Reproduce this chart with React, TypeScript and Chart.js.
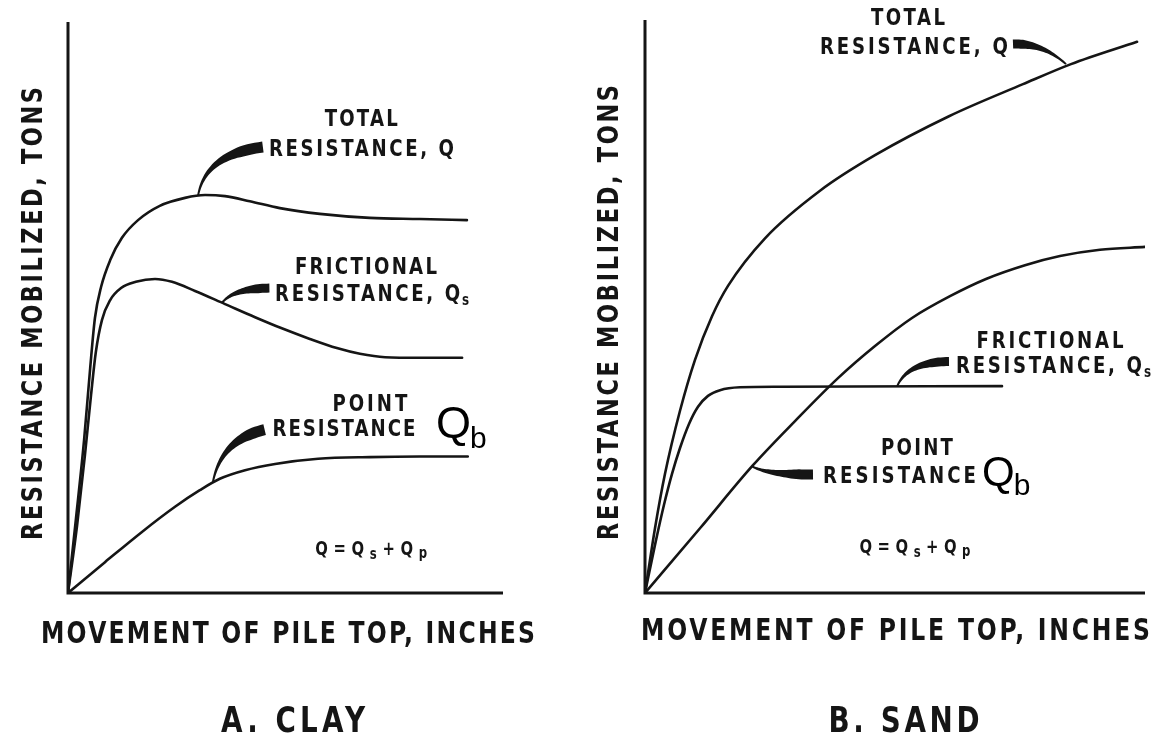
import React, { useEffect, useRef } from "react";
import { Chart, registerables } from "chart.js";
Chart.register(...registerables);

// ---------- text ----------
const xAxisTitle = "MOVEMENT OF PILE TOP, INCHES";
const yAxisTitle = "RESISTANCE MOBILIZED, TONS";
const clayCaption = "A. CLAY";
const sandCaption = "B. SAND";

// ---------- data (movement vs resistance, schematic units 0..100) ----------
const clayTotalX = [0, 1.8, 3.7, 5.1, 6.2, 7.6, 9.7, 12.4, 16.1, 21.1, 26.9, 31.5, 36.1, 41.8, 48.7, 57.9, 69.4, 80.9, 91.7];
const clayTotalY = [0, 12.8, 26.8, 39.4, 48.2, 53.6, 58.3, 62.2, 65.3, 67.8, 69.2, 69.7, 69.5, 68.6, 67.4, 66.4, 65.7, 65.5, 65.3];
const clayFrictionX = [0, 2.1, 3.9, 5.3, 6.4, 7.8, 9.7, 12.2, 15.6, 20, 23.9, 29.2, 36.1, 43, 49, 55.6, 61.8, 67.1, 72.9, 80.9, 90.6];
const clayFrictionY = [0, 11.9, 24.2, 34.7, 42.2, 47.8, 51.3, 53.4, 54.5, 55.0, 54.5, 52.9, 50.6, 48.3, 46.4, 44.5, 42.9, 41.9, 41.3, 41.2, 41.2];
const clayPointX = [0, 8.5, 17, 24.6, 30.3, 34.9, 40.7, 47.6, 57.5, 69.4, 80.9, 91.9];
const clayPointY = [0, 5.4, 10.7, 15.1, 18.0, 20.0, 21.5, 22.6, 23.5, 23.8, 23.9, 23.9];

const sandTotalX = [0, 2, 4, 7, 10, 13.4, 16.6, 24, 35, 46, 60.8, 75.6, 85.2, 98.4];
const sandTotalY = [0, 11.3, 20.8, 31.8, 40.7, 48.3, 53.6, 61.9, 70.2, 76.4, 83.2, 88.8, 92.3, 96.2];
const sandFrictionX = [0, 2, 3.8, 5.4, 7, 8.8, 10.6, 12.6, 15, 19, 27, 71.4];
const sandFrictionY = [0, 8.4, 15.4, 20.8, 25.3, 29.5, 32.5, 34.4, 35.4, 35.9, 36.0, 36.1];
const sandPointX = [0, 11, 21.6, 30, 38.6, 46, 53.4, 61, 68.2, 76, 83, 91, 100];
const sandPointY = [0, 11.3, 22.3, 30.0, 37.5, 43.1, 48.0, 51.8, 54.8, 57.2, 58.8, 59.9, 60.4];

// ---------- annotation layout ----------
type Label = { text: string; x: number; y: number; cap: number; width: number; align: "left" | "center" | "right"; sub?: string };
type Leader = { p: number[]; w0: number; w1: number };
type Panel = {
  padding: { left: number; right: number; top: number; bottom: number };
  xTitle: { left: number; width: number; mid: number; cap: number };
  yTitle: { cx: number; top: number; bottom: number; cap: number };
  caption: { text: string; cx: number; mid: number; width: number; cap: number };
  labels: Label[];
  leaders: Leader[];
  bigQ: { x: number; y: number; size: number; subSize: number; subDy: number };
  formula: { x: number; y: number; width: number };
};

const clayPanel: Panel = {
  padding: { left: 68, right: 75, top: 22, bottom: 142 },
  xTitle: { left: 41, width: 494, mid: 632, cap: 22 },
  yTitle: { cx: 31, top: 87, bottom: 540, cap: 21 },
  caption: { text: clayCaption, cx: 293, mid: 719, width: 144, cap: 26 },
  labels: [
    { text: "TOTAL", x: 67.4, y: 83.2, cap: 17, width: 73, align: "center" },
    { text: "RESISTANCE, Q", x: 46.2, y: 78.1, cap: 17, width: 185, align: "left" },
    { text: "FRICTIONAL", x: 68.5, y: 57.4, cap: 17, width: 142, align: "center" },
    { text: "RESISTANCE, Q", x: 47.6, y: 52.7, cap: 17, width: 185, align: "left", sub: "s" },
    { text: "POINT", x: 69.4, y: 33.3, cap: 17, width: 75, align: "center" },
    { text: "RESISTANCE", x: 47.0, y: 28.9, cap: 17, width: 143, align: "left" },
  ],
  leaders: [
    { p: [29.9, 69.6, 31.6, 76.8, 44.8, 78.1], w0: 2, w1: 11 },
    { p: [35.4, 50.8, 37.9, 53.3, 46.3, 53.4], w0: 2, w1: 9 },
    { p: [33.3, 19.4, 35.2, 26.8, 45.2, 28.6], w0: 2, w1: 11 },
  ],
  bigQ: { x: 84.6, y: 27.1, size: 45, subSize: 30, subDy: 10 },
  formula: { x: 69.7, y: 6.6, width: 112 },
};

const sandPanel: Panel = {
  padding: { left: 67, right: 12, top: 20, bottom: 142 },
  xTitle: { left: 63, width: 509, mid: 629, cap: 22 },
  yTitle: { cx: 29, top: 85, bottom: 540, cap: 21 },
  caption: { text: sandCaption, cx: 326, mid: 719, width: 151, cap: 26 },
  labels: [
    { text: "TOTAL", x: 52.6, y: 100.6, cap: 17, width: 74, align: "center" },
    { text: "RESISTANCE, Q", x: 72.6, y: 95.5, cap: 17, width: 188, align: "right" },
    { text: "FRICTIONAL", x: 81.0, y: 44.2, cap: 17, width: 147, align: "center" },
    { text: "RESISTANCE, Q", x: 62.2, y: 39.8, cap: 17, width: 186, align: "left", sub: "s" },
    { text: "POINT", x: 54.4, y: 25.5, cap: 17, width: 72, align: "center" },
    { text: "RESISTANCE", x: 35.6, y: 20.6, cap: 17, width: 153, align: "left" },
  ],
  leaders: [
    { p: [84.2, 92.3, 79.5, 96.0, 73.6, 95.8], w0: 2, w1: 9 },
    { p: [50.4, 36.0, 52.4, 40.3, 60.8, 40.4], w0: 2, w1: 9 },
    { p: [21.4, 22.1, 24.6, 20.6, 33.6, 20.7], w0: 2, w1: 10 },
  ],
  bigQ: { x: 67.4, y: 18.7, size: 42, subSize: 30, subDy: 9 },
  formula: { x: 54.0, y: 7.0, width: 111 },
};

const FONT = '"DejaVu Sans", sans-serif';
const INK = "#151515";
const SQUEEZE = 0.78;

function fitText(ctx: CanvasRenderingContext2D, text: string, left: number, baseline: number, cap: number, width: number) {
  const size = cap / 0.73;
  ctx.save();
  ctx.font = `bold ${size}px ${FONT}`;
  (ctx as any).letterSpacing = "0px";
  const n = Array.from(text).length;
  const w0 = ctx.measureText(text).width;
  const target = width / SQUEEZE;
  const ls = n > 1 ? (target - w0) / (n - 1) : 0;
  ctx.translate(left, baseline);
  ctx.scale(SQUEEZE, 1);
  (ctx as any).letterSpacing = `${ls}px`;
  ctx.textAlign = "left";
  ctx.textBaseline = "alphabetic";
  ctx.fillText(text, 0, 0);
  (ctx as any).letterSpacing = "0px";
  ctx.restore();
}

function drawRuns(ctx: CanvasRenderingContext2D, runs: { t: string; size: number; dy: number }[], cx: number, base: number, width: number) {
  ctx.save();
  let natural = 0, chars = 0;
  for (const r of runs) {
    ctx.font = `bold ${r.size}px ${FONT}`;
    natural += ctx.measureText(r.t).width;
    chars += r.t.length;
  }
  const target = width / SQUEEZE;
  const ls = (target - natural) / (chars - 1);
  ctx.translate(cx - width / 2, base);
  ctx.scale(SQUEEZE, 1);
  let x = 0;
  for (const r of runs) {
    ctx.font = `bold ${r.size}px ${FONT}`;
    (ctx as any).letterSpacing = "0px";
    const w = ctx.measureText(r.t).width;
    (ctx as any).letterSpacing = `${ls}px`;
    ctx.fillText(r.t, x, r.dy);
    x += w + ls * r.t.length;
  }
  (ctx as any).letterSpacing = "0px";
  ctx.restore();
}

function wedge(ctx: CanvasRenderingContext2D, pts: number[][], w0: number, w1: number) {
  const [a, b, c] = pts;
  const N = 30;
  const L: number[][] = [];
  const R: number[][] = [];
  for (let i = 0; i <= N; i++) {
    const t = i / N;
    const x = (1 - t) * (1 - t) * a[0] + 2 * (1 - t) * t * b[0] + t * t * c[0];
    const y = (1 - t) * (1 - t) * a[1] + 2 * (1 - t) * t * b[1] + t * t * c[1];
    let dx = 2 * (1 - t) * (b[0] - a[0]) + 2 * t * (c[0] - b[0]);
    let dy = 2 * (1 - t) * (b[1] - a[1]) + 2 * t * (c[1] - b[1]);
    const len = Math.hypot(dx, dy) || 1;
    dx /= len; dy /= len;
    const k = Math.min(1, t / 0.82);
    const w = w0 + (w1 - w0) * Math.pow(k, 1.6);
    L.push([x - dy * w / 2, y + dx * w / 2]);
    R.push([x + dy * w / 2, y - dx * w / 2]);
  }
  ctx.beginPath();
  ctx.moveTo(L[0][0], L[0][1]);
  for (const p of L) ctx.lineTo(p[0], p[1]);
  for (let i = R.length - 1; i >= 0; i--) ctx.lineTo(R[i][0], R[i][1]);
  ctx.closePath();
  ctx.fill();
}

function makePlugin(panel: Panel) {
  return {
    id: "decor",
    beforeDatasetsDraw(chart: any) {
      const ctx: CanvasRenderingContext2D = chart.ctx;
      const xs = chart.scales.x, ys = chart.scales.y;
      const x0 = xs.getPixelForValue(0), x1 = xs.getPixelForValue(100);
      const y0 = ys.getPixelForValue(0), y1 = ys.getPixelForValue(100);
      ctx.save();
      ctx.strokeStyle = INK;
      ctx.lineWidth = 3;
      ctx.lineCap = "butt";
      ctx.beginPath();
      ctx.moveTo(x0, y1);
      ctx.lineTo(x0, y0);
      ctx.lineTo(x1, y0);
      ctx.stroke();
      ctx.restore();
    },
    afterDraw(chart: any) {
      const ctx: CanvasRenderingContext2D = chart.ctx;
      const xs = chart.scales.x, ys = chart.scales.y;
      const X = (v: number) => xs.getPixelForValue(v);
      const Y = (v: number) => ys.getPixelForValue(v);
      ctx.save();
      ctx.fillStyle = INK;
      for (const l of panel.leaders) {
        const p = l.p;
        wedge(ctx, [[X(p[0]), Y(p[1])], [X(p[2]), Y(p[3])], [X(p[4]), Y(p[5])]], l.w0, l.w1);
      }
      for (const lb of panel.labels) {
        const px = X(lb.x);
        const left = lb.align === "center" ? px - lb.width / 2 : lb.align === "right" ? px - lb.width : px;
        const base = Y(lb.y) + lb.cap / 2;
        fitText(ctx, lb.text, left, base, lb.cap, lb.width);
        if (lb.sub) {
          ctx.save();
          ctx.translate(left + lb.width + 2, base + 4);
          ctx.scale(SQUEEZE, 1);
          ctx.font = `bold ${lb.cap * 0.9}px ${FONT}`;
          ctx.fillText(lb.sub, 0, 0);
          ctx.restore();
        }
      }
      // big Q_b
      const q = panel.bigQ;
      ctx.font = `${q.size}px "Liberation Sans", Arial, sans-serif`;
      ctx.textAlign = "left";
      ctx.textBaseline = "alphabetic";
      const qx = X(q.x), qy = Y(q.y);
      ctx.fillStyle = "#000";
      ctx.fillText("Q", qx, qy);
      const qw = ctx.measureText("Q").width;
      ctx.font = `${q.subSize}px "Liberation Sans", Arial, sans-serif`;
      ctx.fillText("b", qx + qw - 1, qy + q.subDy);
      ctx.fillStyle = INK;
      // formula Q=Qs+Qp
      const f = panel.formula;
      drawRuns(ctx, [
        { t: "Q=Q", size: 19, dy: 0 },
        { t: "s", size: 15, dy: 4 },
        { t: "+Q", size: 19, dy: 0 },
        { t: "p", size: 15, dy: 3 },
      ], X(f.x), Y(f.y), f.width);
      // axis titles
      const xt = panel.xTitle;
      fitText(ctx, xAxisTitle, xt.left, xt.mid + xt.cap / 2, xt.cap, xt.width);
      const yt = panel.yTitle;
      ctx.save();
      ctx.translate(yt.cx, (yt.top + yt.bottom) / 2);
      ctx.rotate(-Math.PI / 2);
      const len = yt.bottom - yt.top;
      fitText(ctx, yAxisTitle, -len / 2, yt.cap / 2, yt.cap, len);
      ctx.restore();
      const cp = panel.caption;
      fitText(ctx, cp.text, cp.cx - cp.width / 2, cp.mid + cp.cap / 2, cp.cap, cp.width);
      ctx.restore();
    },
  };
}

function series(xs: number[], ys: number[]) {
  return xs.map((x, i) => ({ x, y: ys[i] }));
}

function lineDs(label: string, data: { x: number; y: number }[]) {
  return {
    label,
    data,
    borderColor: INK,
    borderWidth: 2.6,
    pointRadius: 0,
    fill: false,
    cubicInterpolationMode: "monotone" as const,
    borderCapStyle: "round" as const,
    borderJoinStyle: "round" as const,
  };
}

function buildChart(canvas: HTMLCanvasElement, panel: Panel, datasets: any[]) {
  return new Chart(canvas, {
    type: "line",
    data: { datasets },
    options: {
      responsive: false,
      animation: false,
      devicePixelRatio: 1,
      events: [],
      layout: { padding: panel.padding },
      plugins: { legend: { display: false }, tooltip: { enabled: false }, title: { display: false } },
      scales: {
        x: { type: "linear", min: 0, max: 100, display: false },
        y: { type: "linear", min: 0, max: 100, display: false },
      },
    },
    plugins: [makePlugin(panel)],
  } as any);
}

export default function App() {
  const leftRef = useRef<HTMLCanvasElement>(null);
  const rightRef = useRef<HTMLCanvasElement>(null);
  useEffect(() => {
    const c1 = buildChart(leftRef.current!, clayPanel, [
      lineDs("Total resistance, Q", series(clayTotalX, clayTotalY)),
      lineDs("Frictional resistance, Qs", series(clayFrictionX, clayFrictionY)),
      lineDs("Point resistance, Qb", series(clayPointX, clayPointY)),
    ]);
    const c2 = buildChart(rightRef.current!, sandPanel, [
      lineDs("Total resistance, Q", series(sandTotalX, sandTotalY)),
      lineDs("Frictional resistance, Qs", series(sandFrictionX, sandFrictionY)),
      lineDs("Point resistance, Qb", series(sandPointX, sandPointY)),
    ]);
    return () => {
      c1.destroy();
      c2.destroy();
    };
  }, []);
  return (
    <div style={{ position: "fixed", left: 0, top: 0, width: 1157, height: 735, background: "#fff" }}>
      <canvas ref={leftRef} width={578} height={735} style={{ position: "absolute", left: 0, top: 0 }} />
      <canvas ref={rightRef} width={579} height={735} style={{ position: "absolute", left: 578, top: 0 }} />
    </div>
  );
}
